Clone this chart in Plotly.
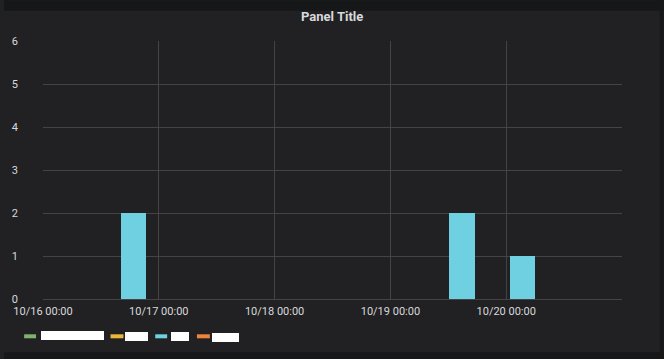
import plotly.graph_objects as go

# ---- data ----
bar_times = ["2019-10-16 18:45", "2019-10-19 14:50", "2019-10-20 03:20"]
bar_values = [2, 2, 1]
bar_width_hours = 5.25

series_names = ["SSO - Period", "LGB", "IOS", "SIN"]
series_colors = ["#7EB26D", "#EAB839", "#6ED0E0", "#EF843C"]

x_ticks = ["2019-10-16", "2019-10-17", "2019-10-18", "2019-10-19", "2019-10-20"]
x_range = ["2019-10-16", "2019-10-21"]
y_ticks = [0, 1, 2, 3, 4, 5, 6]

# ---- layout geometry (pixels) ----
W, H = 664, 359
L, R, T, B = 39, 622, 40.7, 298.7
pw, ph = R - L, B - T


def px(x):
    return (x - L) / pw


def py(y):
    return (B - y) / ph


fig = go.Figure()
fig.add_trace(go.Bar(
    x=bar_times, y=bar_values,
    width=[bar_width_hours * 3600 * 1000] * len(bar_values),
    marker=dict(color=series_colors[2], line=dict(width=0)),
    showlegend=False,
))

shapes = []
annotations = []
# outer dark frame strips
dark = "#161719"
for (x0, y0, x1, y1) in [(0, 0, W, 10.5), (0, 352, W, H), (660, 0, W, H)]:
    shapes.append(dict(type="rect", xref="paper", yref="paper",
                       x0=px(x0), x1=px(x1), y0=py(y1), y1=py(y0),
                       fillcolor=dark, line=dict(width=0), layer="below"))

# manual legend (labels are masked by white boxes in the reference)
legend_lines = [(20, 32), (107, 120), (152, 164), (194, 207)]
label_boxes = [(37, 331, 100, 340), (122, 332, 145, 341), (168, 332, 186, 341), (209, 333, 236, 342)]
for name, color, (lx0, lx1), (bx0, by0, bx1, by1) in zip(series_names, series_colors, legend_lines, label_boxes):
    shapes.append(dict(type="line", xref="paper", yref="paper",
                       x0=px(lx0), x1=px(lx1), y0=py(336), y1=py(336),
                       line=dict(color=color, width=4)))
    annotations.append(dict(xref="paper", yref="paper", x=px(bx0), y=py((by0 + by1) / 2),
                            text=name, showarrow=False, xanchor="left", yanchor="middle",
                            width=bx1 - bx0, height=by1 - by0, borderpad=0, borderwidth=0,
                            bgcolor="white",
                            font=dict(family="Roboto", size=8, color="white")))

# title
annotations.append(dict(xref="paper", yref="paper", x=px(330), y=py(16),
                        text="<b>Panel Title</b>", showarrow=False,
                        xanchor="center", yanchor="middle",
                        font=dict(family="Roboto", size=13, color="#d8d9da")))

fig.update_layout(
    width=W, height=H,
    margin=dict(l=L, r=W - R, t=T, b=H - B, pad=0),
    paper_bgcolor="#212124", plot_bgcolor="#212124",
    font=dict(family="Roboto", size=11, color="#d8d9da"),
    shapes=shapes, annotations=annotations,
    showlegend=False,
    bargap=0,
)
fig.update_xaxes(
    type="date", range=x_range, tickvals=x_ticks, tickformat="%m/%d %H:%M",
    showgrid=True, gridcolor="#444447", gridwidth=1,
    showline=False, zeroline=False, ticks="", ticklabelstandoff=4,
)
fig.update_yaxes(
    range=[0, 6], tickvals=y_ticks,
    showgrid=True, gridcolor="#444447", gridwidth=1,
    zeroline=True, zerolinecolor="#444447", zerolinewidth=1,
    showline=False, ticks="", ticklabelstandoff=24,
)

fig.write_html("out.html", config={"displayModeBar": False},
               post_script="document.body.style.margin='0';document.body.style.overflow='hidden';")
